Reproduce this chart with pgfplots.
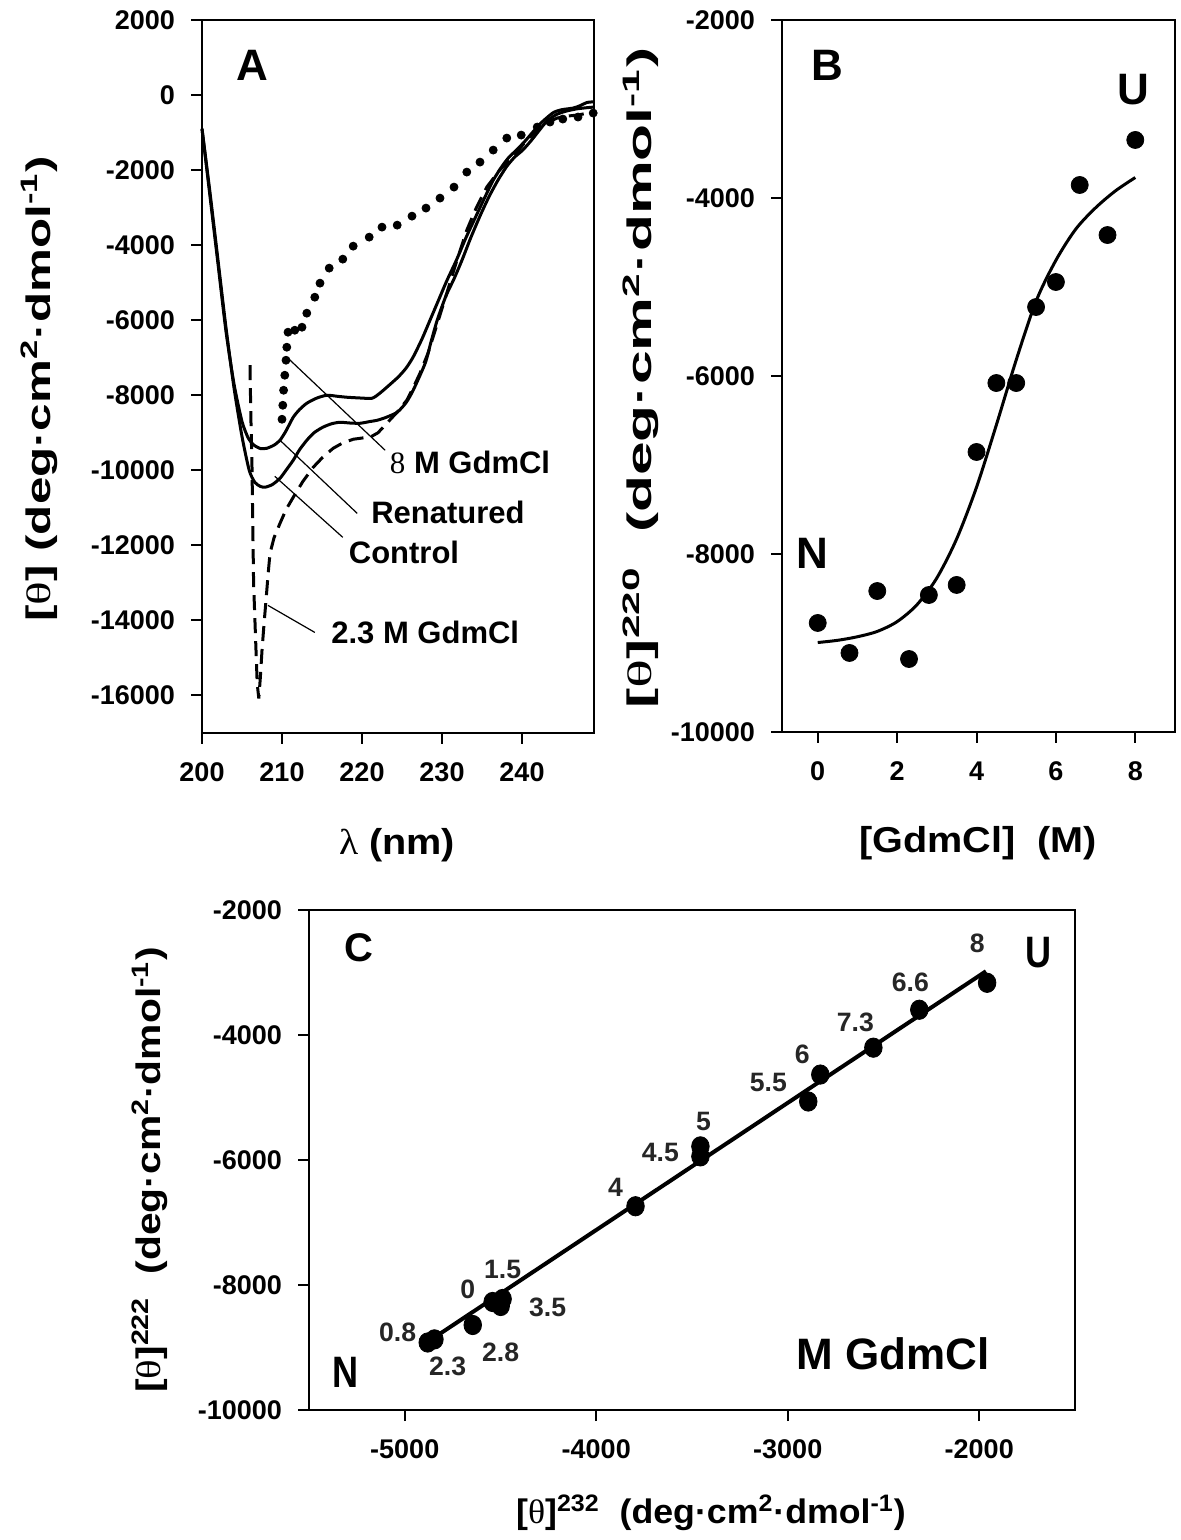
\documentclass[border=0pt]{standalone}
\usepackage{fontspec}
\setmainfont{Liberation Sans}
\newfontfamily\serif{Liberation Serif}
\usepackage{pgfplots}
\pgfplotsset{compat=1.18}
\newcommand{\fs}[1]{\fontsize{#1}{#1}\selectfont}
\pgfplotsset{
  myax/.style={
    scale only axis, anchor=south west, clip=false, scaled ticks=false,
    axis line style={line width=1pt},
    every tick/.style={line width=1pt, black},
    tick align=outside, major tick length=5.5pt,
    xtick pos=left, ytick pos=left,
    ticklabel style={font=\bfseries\fs{13.5}},
    xticklabel style={yshift=-6pt},
    yticklabel style={xshift=-4.5pt},
  },
}
\tikzset{lbl/.style={font=\bfseries\fs{15.5}, anchor=center, inner sep=0pt}}
\begin{document}
\begin{tikzpicture}
\useasboundingbox (0,0) rectangle (590.5pt,770pt);
% ---------------- Panel A ----------------
\begin{axis}[myax, at={(101pt,403.5pt)}, width=196pt, height=356.5pt,
  xmin=200, xmax=249, ymin=-17000, ymax=2000,
  xtick={200,210,220,230,240}, xticklabels={200,210,220,230,240},
  ytick={-16000,-14000,-12000,-10000,-8000,-6000,-4000,-2000,0,2000},
  yticklabels={-16000,-14000,-12000,-10000,-8000,-6000,-4000,-2000,0,2000}]
% Control
\addplot[black, line width=1.5pt, smooth, tension=0.4, mark=none] coordinates {
(200,-900)(201,-2600)(202,-4400)(203,-6200)(204,-7800)(205,-9100)(205.9,-10000)
(206.6,-10320)(207.3,-10430)(207.9,-10450)(208.8,-10380)(209.75,-10213)(210.5,-10000)
(211.4,-9733)(212.2,-9450)(213.1,-9200)(214,-9000)(215.1,-8853)(216.2,-8760)(217.25,-8720)
(218.5,-8740)(219.75,-8747)(221,-8700)(221.9,-8667)(223,-8590)(224.4,-8453)(225.5,-8200)
(226.4,-7866)(227.9,-7146)(228.6,-6600)(229.4,-6000)(230.5,-5350)(231.5,-4900)(232.5,-4400)
(233.6,-3800)(234.8,-3200)(235.9,-2700)(237,-2267)(238.1,-1900)(239.1,-1650)(240.1,-1467)
(241.2,-1200)(242.2,-930)(243.1,-700)(244.3,-520)(245.5,-430)(246.8,-370)(248,-340)(249,-320)};
% Renatured
\addplot[black, line width=1.5pt, smooth, tension=0.4, mark=none] coordinates {
(200,-900)(201,-2700)(202,-4500)(203,-6300)(204,-7700)(205,-8700)(205.8,-9150)
(206.5,-9330)(207.3,-9420)(208.1,-9413)(209,-9330)(209.75,-9200)(210.5,-8950)
(211.4,-8587)(212.2,-8380)(213.1,-8213)(214.3,-8080)(215.6,-8000)(217,-8030)(218.1,-8053)
(219.5,-8070)(221.25,-8080)(222.2,-7950)(223.1,-7787)(224.5,-7520)(225.5,-7280)
(226.4,-6980)(227.5,-6500)(228.5,-6000)(229.5,-5500)(230.6,-4950)(231.8,-4400)(233,-3800)
(234.2,-3250)(235.3,-2750)(236.4,-2270)(237.5,-1900)(238.4,-1650)(239.3,-1470)(240.5,-1200)
(241.5,-950)(242.5,-720)(243.9,-470)(245,-390)(246.4,-347)(247.3,-280)(248.1,-200)(249,-180)};
% 2.3 M GdmCl (dashed)
\addplot[black, line width=1.5pt, dash pattern=on 7.5pt off 4pt, mark=none] coordinates {
(206.0,-7200)(206.1,-8500)(206.25,-9920)(206.35,-11500)(206.45,-13013)(206.7,-14500)
(206.9,-15680)(207.1,-16080)(207.3,-15500)(207.5,-14800)(207.75,-14100)(208,-13470)
(208.25,-12800)(208.5,-12213)(209,-11800)(209.75,-11413)(210.5,-11050)(211.4,-10720)
(212.6,-10300)(213.9,-9920)(215.1,-9650)(216.4,-9413)(217.6,-9270)(218.9,-9173)(220,-9140)
(221,-9120)(222,-9000)(223.1,-8747)(224.4,-8450)(225.6,-8133)(226.4,-7800)(227.25,-7413)
(228.25,-6880)(229.4,-6100)(230.6,-5280)(231.8,-4450)(233.1,-3600)(234.3,-3000)(235.6,-2453)
(237.2,-2000)(238.9,-1653)(240.4,-1250)(241.9,-933)(243.2,-730)(244.4,-613)(245.7,-560)
(247,-533)(248,-490)(249,-450)};
% 8 M GdmCl (dotted)
\addplot[only marks, mark=*, mark size=2pt, black] coordinates {
(210.0,-8640)(210.1,-8267)(210.2,-7867)(210.35,-7467)(210.5,-7067)(210.6,-6720)
(210.75,-6320)(211.6,-6267)(212.5,-6187)(213.1,-5813)(214.1,-5387)(214.75,-5013)
(215.9,-4613)(217.6,-4373)(218.9,-4027)(220.9,-3787)(222.5,-3520)(224.4,-3467)
(226.25,-3227)(228,-3013)(229.75,-2747)(231.5,-2453)(233.1,-2053)(234.75,-1787)
(236.4,-1467)(238.1,-1147)(239.9,-1067)(241.9,-853)(243.5,-720)(245.1,-640)(247,-587)(248.9,-480)};
% annotations
\draw[line width=0.6pt] (axis cs:210.75,-7013) -- (axis cs:222.9,-9467);
\draw[line width=0.6pt] (axis cs:209.75,-9200) -- (axis cs:219.4,-11147);
\draw[line width=0.6pt] (axis cs:209.1,-10160) -- (axis cs:217.6,-11787);
\draw[line width=0.6pt] (axis cs:208.25,-13600) -- (axis cs:214.1,-14320);
\node[lbl] at (axis cs:233.5,-9787) {{\serif\mdseries 8} M GdmCl};
\node[lbl] at (axis cs:230.75,-11120) {Renatured};
\node[lbl] at (axis cs:225.25,-12187) {Control};
\node[lbl] at (axis cs:227.9,-14320) {2.3 M GdmCl};
\node[font=\bfseries\fs{22}, inner sep=0pt] at (axis cs:206.25,800) {A};
\end{axis}
% ---------------- Panel B ----------------
\begin{axis}[myax, at={(391pt,404pt)}, width=196.5pt, height=356pt,
  xmin=-0.9, xmax=9, ymin=-10000, ymax=-2000,
  xtick={0,2,4,6,8}, xticklabels={0,2,4,6,8},
  ytick={-10000,-8000,-6000,-4000,-2000},
  yticklabels={-10000,-8000,-6000,-4000,-2000}]
\addplot[black, line width=1.5pt, smooth, mark=none] coordinates {
(0,-8995)(0.5,-8970)(1,-8930)(1.5,-8870)(2,-8760)(2.5,-8570)(3,-8270)(3.5,-7830)
(4,-7250)(4.5,-6550)(5,-5820)(5.5,-5160)(6,-4700)(6.5,-4350)(7,-4110)(7.5,-3920)(8,-3770)};
\addplot[only marks, mark=*, mark size=4.25pt, black] coordinates {
(0,-8775)(0.8,-9112)(1.5,-8416)(2.3,-9180)(2.8,-8461)(3.5,-8348)(4.0,-6854)
(4.5,-6079)(5.0,-6079)(5.5,-5225)(6.0,-4944)(6.6,-3854)(7.3,-4416)(8.0,-3348)};
\node[font=\bfseries\fs{22}, inner sep=0pt] at (axis cs:0.25,-2506) {B};
\node[font=\bfseries\fs{22}, inner sep=0pt] at (axis cs:7.95,-2786) {U};
\node[font=\bfseries\fs{22}, inner sep=0pt] at (axis cs:-0.13,-7989) {N};
\end{axis}
% ---------------- Panel C ----------------
\begin{axis}[myax, at={(154.5pt,65pt)}, width=383pt, height=250pt,
  xmin=-5500, xmax=-1500, ymin=-10000, ymax=-2000,
  xtick={-5000,-4000,-3000,-2000}, xticklabels={-5000,-4000,-3000,-2000},
  ytick={-10000,-8000,-6000,-4000,-2000},
  yticklabels={-10000,-8000,-6000,-4000,-2000}]
\addplot[black, line width=2pt, mark=none] coordinates {(-4880,-8910)(-1965,-2980)};
\addplot[only marks, mark=*, mark size=4.4pt, black, mark options={yscale=1.1}] coordinates {
(-4541,-8272)(-4880,-8920)(-4489,-8224)(-4845,-8870)(-4645,-8640)(-4499,-8336)
(-3795,-6740)(-3456,-5942)(-3456,-5782)(-2893,-5064)(-2830,-4633)(-2313,-3596)
(-2553,-4203)(-1959,-3165)};
\begin{scope}[every node/.style={font=\bfseries\fs{13.3}, text=black!85, inner sep=0pt}]
\node at (axis cs:-2011,-2527) {8};
\node at (axis cs:-2360,-3165) {6.6};
\node at (axis cs:-2647,-3803) {7.3};
\node at (axis cs:-2924,-4314) {6};
\node at (axis cs:-3101,-4761) {5.5};
\node at (axis cs:-3440,-5384) {5};
\node at (axis cs:-3665,-5878) {4.5};
\node at (axis cs:-3899,-6437) {4};
\node at (axis cs:-4489,-7746) {1.5};
\node at (axis cs:-4671,-8065) {0};
\node at (axis cs:-4254,-8352) {3.5};
\node at (axis cs:-5037,-8751) {0.8};
\node at (axis cs:-4776,-9294) {2.3};
\node at (axis cs:-4499,-9070) {2.8};
\end{scope}
\node[font=\bfseries\fs{20}, inner sep=0pt] at (axis cs:-5240,-2606) {C};
\node[font=\bfseries\fs{22}, inner sep=0pt] at (axis cs:-1693,-2686) {\scalebox{0.82}[1]{U}};
\node[font=\bfseries\fs{22}, inner sep=0pt] at (axis cs:-5308,-9405) {\scalebox{0.82}[1]{N}};
\node[font=\bfseries\fs{22}, inner sep=0pt] at (axis cs:-2449,-9102) {M GdmCl};
\end{axis}
% ---------------- Axis titles ----------------
\node[rotate=90, font=\bfseries\fs{17}, inner sep=0pt] at (19.75pt,575.5pt)
  {\scalebox{1.45}[1]{[{\serif\mdseries θ}] (deg·cm\textsuperscript{2}·dmol\textsuperscript{-1})}};
\node[font=\bfseries\fs{18}, inner sep=0pt] at (198.5pt,347.5pt)
  {\scalebox{1.1}[1]{{\serif\mdseries λ} (nm)}};
\node[rotate=90, font=\bfseries\fs{17}, inner sep=0pt] at (320.5pt,581pt)
  {\scalebox{1.78}[1]{[{\serif\mdseries θ}]\textsuperscript{220}\ \ (deg·cm\textsuperscript{2}·dmol\textsuperscript{-1})}};
\node[font=\bfseries\fs{18}, inner sep=0pt] at (489pt,348.5pt)
  {\scalebox{1.1}[1]{[GdmCl]\ \ (M)}};
\node[rotate=90, font=\bfseries\fs{17}, inner sep=0pt] at (75pt,185pt)
  {\scalebox{1.2}[1]{[{\serif\mdseries θ}]\textsuperscript{222}\ \ (deg·cm\textsuperscript{2}·dmol\textsuperscript{-1})}};
\node[font=\bfseries\fs{17}, inner sep=0pt] at (355.5pt,13.5pt)
  {\scalebox{1.05}[1]{[{\serif\mdseries θ}]\textsuperscript{232}\ \ (deg·cm\textsuperscript{2}·dmol\textsuperscript{-1})}};
\end{tikzpicture}
\end{document}
